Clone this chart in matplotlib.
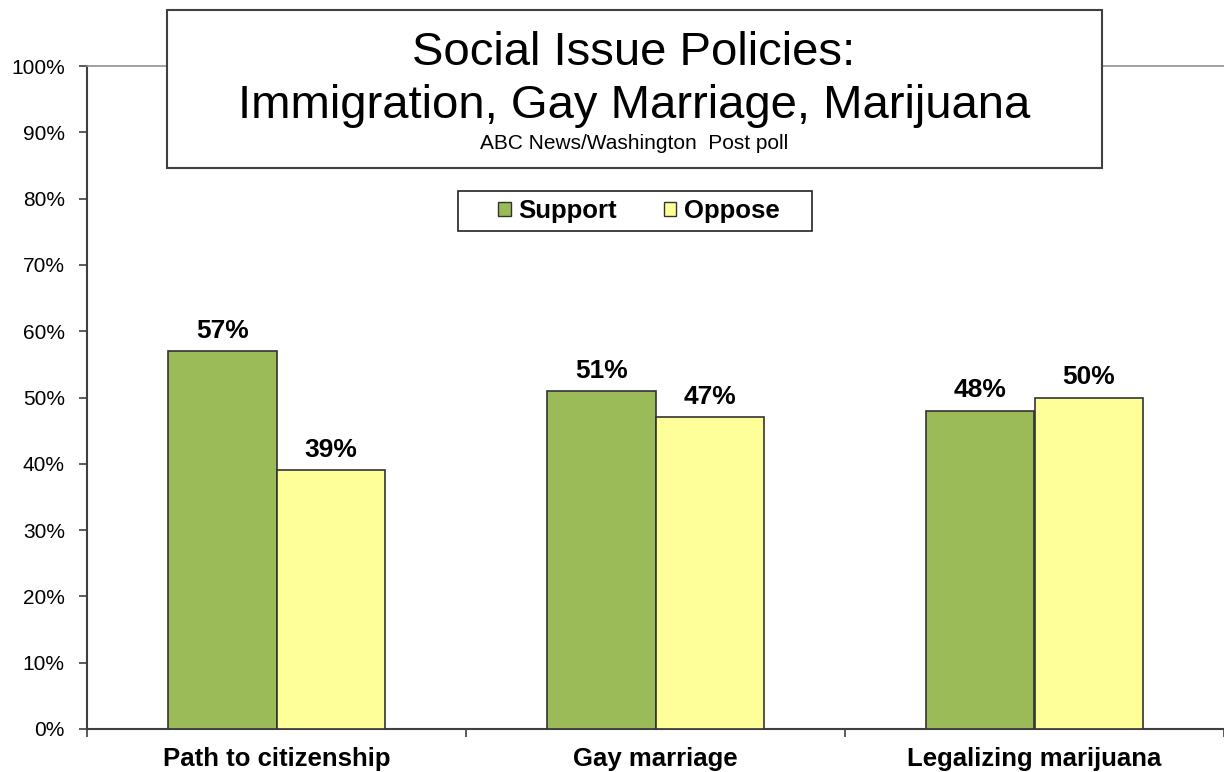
import numpy as np
import matplotlib.pyplot as plt
from matplotlib.patches import Rectangle, Patch

categories = ["Path to citizenship", "Gay marriage", "Legalizing marijuana"]
support = [57, 51, 48]
oppose = [39, 47, 50]
series_names = ["Support", "Oppose"]
yticks = np.arange(0, 101, 10)

green = "#9BBB59"
yellow = "#FFFF99"

plt.rcParams['font.family'] = ['Liberation Sans', 'DejaVu Sans']

fig = plt.figure(figsize=(12.24, 7.72), dpi=100)
ax = fig.add_axes([87 / 1224, 43 / 772, 1 - 87 / 1224, (729 - 66) / 772])

x = np.arange(len(categories))
w = 0.285
b1 = ax.bar(x - w / 2, support, w, color=green, edgecolor="#333333", linewidth=1.2, zorder=3)
b2 = ax.bar(x + w / 2, oppose, w, color=yellow, edgecolor="#333333", linewidth=1.2, zorder=3)

for bars, vals in ((b1, support), (b2, oppose)):
    for r, v in zip(bars, vals):
        ax.annotate(f"{v}%", (r.get_x() + r.get_width() / 2, v), xytext=(0, 6),
                    textcoords="offset points", ha="center", va="bottom",
                    fontsize=19, fontweight="bold")

ax.set_ylim(0, 100)
ax.set_xlim(-0.5, 2.5 - 6 / 381)
ax.set_yticks(yticks, [f"{t}%" for t in yticks])
ax.tick_params(axis="y", direction="out", length=6, width=1.2, color="#404040",
               labelsize=15, pad=10)

ax.set_xticks([-0.5, 0.5, 1.5, 2.5], ["", "", "", ""])
ax.tick_params(axis="x", which="major", direction="out", length=6, width=1.2, color="#404040")
ax.set_xticks(x, categories, minor=True)
ax.tick_params(axis="x", which="minor", length=0, labelsize=18.5, pad=13)
for lbl in ax.get_xticklabels(minor=True):
    lbl.set_fontweight("bold")

ax.spines["right"].set_visible(False)
ax.spines["top"].set_color("#909090")
ax.spines["top"].set_linewidth(1.2)
ax.spines["left"].set_color("#404040")
ax.spines["left"].set_linewidth(1.5)
ax.spines["bottom"].set_color("#404040")
ax.spines["bottom"].set_linewidth(1.5)

# title box
box = Rectangle((167 / 1224, 1 - 168 / 772), (1102 - 167) / 1224, (168 - 10) / 772,
                transform=fig.transFigure, facecolor="white", edgecolor="#404040",
                linewidth=1.5, zorder=5)
fig.add_artist(box)
fig.text(634 / 1224, 1 - 65 / 772, "Social Issue Policies:", ha="center", va="baseline",
         fontsize=34, zorder=6)
fig.text(634 / 1224, 1 - 118 / 772, "Immigration, Gay Marriage, Marijuana", ha="center",
         va="baseline", fontsize=34, zorder=6)
fig.text(634 / 1224, 1 - 149 / 772, "ABC News/Washington  Post poll", ha="center",
         va="baseline", fontsize=15, zorder=6)

# legend box
lbox = Rectangle((458 / 1224, 1 - 231 / 772), (812 - 458) / 1224, (231 - 191) / 772,
                 transform=fig.transFigure, facecolor="white", edgecolor="#222222",
                 linewidth=1.2, zorder=6)
fig.add_artist(lbox)
handles = [Patch(facecolor=green, edgecolor="#333333"),
           Patch(facecolor=yellow, edgecolor="#333333")]
leg = fig.legend(handles, series_names, loc="center", bbox_to_anchor=(639 / 1224, 1 - 211 / 772),
                 ncol=2, frameon=False, prop={"weight": "bold", "size": 18.5},
                 handlelength=0.5, handleheight=0.5, handletextpad=0.3,
                 columnspacing=1.8, borderpad=0, borderaxespad=0)
leg.set_zorder(7)

fig.savefig("out.png", dpi=100)
